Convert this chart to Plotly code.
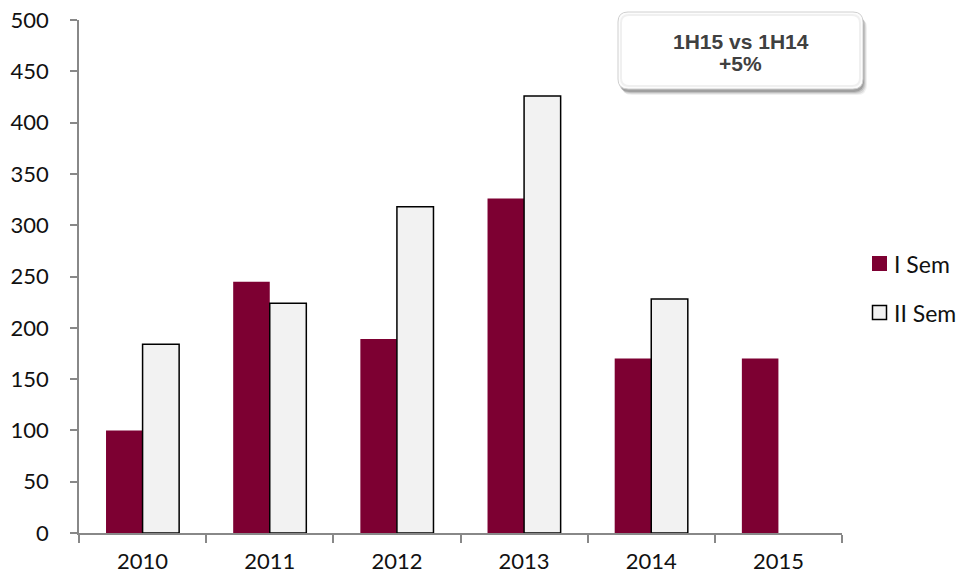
import plotly.graph_objects as go

# Half-year volumes per year
years = ["2010", "2011", "2012", "2013", "2014", "2015"]
sem1 = [100, 245, 189, 326, 170, 170]
sem2 = [184, 224, 318, 426, 228, None]
series_names = ["I Sem", "II Sem"]
y_ticks = [0, 50, 100, 150, 200, 250, 300, 350, 400, 450, 500]
headline = ["1H15 vs 1H14", "+5%"]

W, H = 959, 577
L, R, T, B = 79, 117, 20, 44
PW, PH = W - L - R, H - T - B

RED = "#7D0032"
PALE = "#F2F2F2"
AXIS = "#888888"
TICK_FONT = dict(family="Lato, 'Open Sans', sans-serif", size=22, color="#111111")
LEGEND_FONT = dict(family="Lato, 'Open Sans', sans-serif", size=23, color="#111111")


def fx(px):
    """pixel column -> paper x"""
    return (px - L) / PW


def fy(py):
    """pixel row -> paper y"""
    return (H - B - py) / PH


def rounded_path(x0, y0, x1, y1, r):
    """rounded rectangle given in pixels, returned as a paper-space SVG path"""
    pts = [
        ("M", (x0 + r, y0)), ("L", (x1 - r, y0)), ("Q", (x1, y0), (x1, y0 + r)),
        ("L", (x1, y1 - r)), ("Q", (x1, y1), (x1 - r, y1)), ("L", (x0 + r, y1)),
        ("Q", (x0, y1), (x0, y1 - r)), ("L", (x0, y0 + r)), ("Q", (x0, y0), (x0 + r, y0)),
    ]
    out = []
    for cmd, *coords in pts:
        out.append(cmd + " " + " ".join(f"{fx(a):.5f},{fy(b):.5f}" for a, b in coords))
    return " ".join(out) + " Z"


fig = go.Figure()
fig.add_trace(go.Bar(x=years, y=sem1, name=series_names[0],
                     marker=dict(color=RED, line=dict(width=0))))
fig.add_trace(go.Bar(x=years, y=sem2, name=series_names[1],
                     marker=dict(color=PALE, line=dict(color="#000000", width=1.5))))

shapes = []
# soft drop shadow under the headline box
for i, op in enumerate([0.16, 0.12, 0.09, 0.06]):
    d = i + 1
    shapes.append(dict(type="path", xref="paper", yref="paper", layer="above",
                       path=rounded_path(618 + d, 13 + d + 1, 863 + d, 90 + d + 1, 10),
                       fillcolor=f"rgba(0,0,0,{op})", line=dict(width=0)))
shapes.append(dict(type="path", xref="paper", yref="paper", layer="above",
                   path=rounded_path(618, 12, 863, 89, 10),
                   fillcolor="#FCFCFC", line=dict(color="#D0D0D0", width=1)))
# faint inner band gives the box its shaded rim
shapes.append(dict(type="path", xref="paper", yref="paper", layer="above",
                   path=rounded_path(621, 15, 860, 86, 8),
                   fillcolor="#FFFFFF", line=dict(color="#F0F0F0", width=2)))

# legend swatches
sw_rows = [263.5, 312.5]
shapes.append(dict(type="rect", xref="paper", yref="paper",
                   x0=fx(872), x1=fx(887), y0=fy(sw_rows[0] + 7.5), y1=fy(sw_rows[0] - 7.5),
                   fillcolor=RED, line=dict(width=0)))
shapes.append(dict(type="rect", xref="paper", yref="paper",
                   x0=fx(872.5), x1=fx(886.5), y0=fy(sw_rows[1] + 7), y1=fy(sw_rows[1] - 7),
                   fillcolor=PALE, line=dict(color="#000000", width=1.5)))

annotations = []
for name, row in zip(series_names, sw_rows):
    annotations.append(dict(text=name, xref="paper", yref="paper", x=fx(892), y=fy(row),
                            xanchor="left", yanchor="middle", showarrow=False,
                            font=LEGEND_FONT))
for line, row in zip(headline, [41, 63.5]):
    annotations.append(dict(text=f"<b>{line}</b>", xref="paper", yref="paper",
                            x=fx(740.5), y=fy(row), xanchor="center", yanchor="middle",
                            showarrow=False,
                            font=dict(family="'Liberation Sans', Arial, sans-serif",
                                      size=21, color="#404040")))

fig.update_layout(
    template="none",
    width=W, height=H,
    margin=dict(l=L, r=R, t=T, b=B, pad=0),
    paper_bgcolor="white", plot_bgcolor="white",
    barmode="group", bargap=0.425, bargroupgap=0,
    showlegend=False,
    shapes=shapes, annotations=annotations,
    xaxis=dict(type="category", range=[-0.5, 5.5], showgrid=False, zeroline=False,
               showline=True, linecolor=AXIS, linewidth=1.5,
               ticks="outside", tickson="boundaries", ticklen=8, tickcolor=AXIS,
               tickwidth=1.5, tickfont=TICK_FONT, automargin=False,
               ticklabelstandoff=8),
    yaxis=dict(range=[0, 500], tickvals=y_ticks, showgrid=False, zeroline=False,
               showline=True, linecolor=AXIS, linewidth=1.5,
               ticks="outside", ticklen=7, tickcolor=AXIS, tickwidth=1.5,
               tickfont=TICK_FONT, automargin=False, ticklabelstandoff=17),
)

fig.write_html("out.html")
